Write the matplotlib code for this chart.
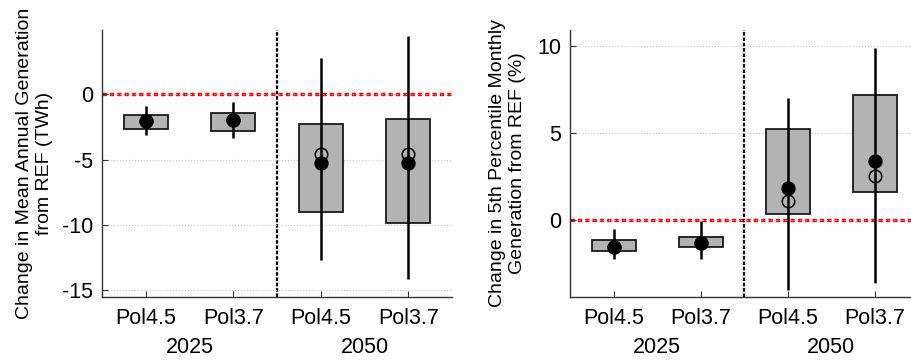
import matplotlib
matplotlib.use("Agg")
import matplotlib.pyplot as plt
import numpy as np

plt.rcParams['font.family'] = ['Liberation Sans', 'DejaVu Sans']
plt.rcParams['axes.unicode_minus'] = False

scenarios = ["Pol4.5", "Pol3.7", "Pol4.5", "Pol3.7"]
years = ["2025", "2050"]

# Left panel: change in mean annual generation (TWh)
mean_box_low = [-2.65, -2.78, -9.03, -9.87]
mean_box_high = [-1.63, -1.45, -2.32, -1.88]
mean_wlow = [-3.16, -3.34, -12.65, -14.13]
mean_whigh = [-0.94, -0.61, 2.78, 4.41]
mean_filled = [-2.07, -2.01, -5.28, -5.28]
mean_open = [-2.07, -2.01, -4.61, -4.61]

# Right panel: change in 5th percentile monthly generation (%)
p5_box_low = [-1.76, -1.51, 0.34, 1.61]
p5_box_high = [-1.13, -0.94, 5.22, 7.21]
p5_wlow = [-2.24, -2.24, -4.0, -3.61]
p5_whigh = [-0.52, -0.05, 7.0, 9.9]
p5_filled = [-1.51, -1.32, 1.84, 3.38]
p5_open = [-1.51, -1.32, 1.11, 2.56]

fig = plt.figure(figsize=(9.12, 3.63), dpi=100)
W, H = 912, 363

def px_axes(x0, x1, ytop, ybot):
    return fig.add_axes([x0 / W, (H - ybot) / H, (x1 - x0) / W, (ybot - ytop) / H])

ax1 = px_axes(102, 452, 30, 297)
ax2 = px_axes(570.3, 918.3, 30, 296.7)

FS = 15.5

def draw(ax, blo, bhi, wlo, whi, filled, opn, ylim, yticks, ylabel):
    x = np.arange(1, len(scenarios) + 1)
    ax.set_xlim(0.5, 4.5)
    ax.set_ylim(*ylim)
    ax.set_yticks(yticks)
    ax.grid(axis='y', color='#c8c8c8', linestyle=':', linewidth=0.8, zorder=0)
    ax.axhline(0, color='#ff0000', linestyle=(0, (1.3, 0.9)), linewidth=2.4, zorder=1)
    ax.axvline(2.5, color='black', linestyle=(0, (1.6, 0.8)), linewidth=1.6, zorder=1)
    ax.bar(x, np.array(bhi) - np.array(blo), bottom=blo, width=0.5,
           color='#b3b3b3', edgecolor='#1a1a1a', linewidth=1.3, zorder=2)
    ax.vlines(x, wlo, whi, color='black', linewidth=1.8, zorder=3)
    ax.plot(x, opn, linestyle='none', marker='o', markersize=9,
            markerfacecolor='none', markeredgecolor='black', markeredgewidth=1.1, zorder=4)
    ax.plot(x, filled, linestyle='none', marker='o', markersize=9.3,
            color='black', zorder=5)
    ax.set_xticks(x)
    ax.set_xticklabels(scenarios)
    ax.tick_params(axis='both', direction='in', length=4, width=0.8, colors='#333333',
                   labelcolor='black', labelsize=FS, pad=6.5)
    ax.tick_params(axis='x', pad=8)
    for s in ['top', 'right']:
        ax.spines[s].set_visible(False)
    for s in ['left', 'bottom']:
        ax.spines[s].set_color('#333333')
        ax.spines[s].set_linewidth(1.0)
    ax.set_ylabel(ylabel, fontsize=14, linespacing=1.2)
    for i, yr in enumerate(years):
        ax.text(1.5 + 2 * i, -0.19, yr, transform=ax.get_xaxis_transform(),
                ha='center', va='center', fontsize=FS)

draw(ax1, mean_box_low, mean_box_high, mean_wlow, mean_whigh, mean_filled, mean_open,
     (-15.5, 4.9), [-15, -10, -5, 0],
     "Change in Mean Annual Generation\nfrom REF (TWh)")
draw(ax2, p5_box_low, p5_box_high, p5_wlow, p5_whigh, p5_filled, p5_open,
     (-4.38, 10.92), [0, 5, 10],
     "Change in 5th Percentile Monthly\nGeneration from REF (%)")
ax1.yaxis.set_label_coords(-0.14, 0.5)
ax2.yaxis.set_label_coords(-0.128, 0.5)

fig.savefig("out.png", dpi=100)
